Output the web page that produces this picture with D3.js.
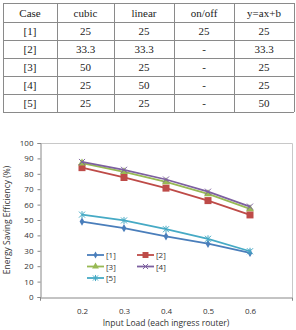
<!DOCTYPE html>
<html>
<head>
<meta charset="utf-8">
<script src="https://cdn.jsdelivr.net/npm/d3@7"></script>
<style>
body { margin: 0; background: #fff; }
svg { display: block; }
.table text { font-family: "Liberation Serif", "Times New Roman", serif; }
.chart text { font-family: "Open Sans", "Noto Sans", sans-serif; }
</style>
</head>
<body>
<svg width="296" height="330"></svg>
<script>
// table data
var columns = ["Case", "cubic", "linear", "on/off", "y=ax+b"];
var cases = ["[1]", "[2]", "[3]", "[4]", "[5]"];
var cubic = ["25", "33.3", "50", "25", "25"];
var linear = ["25", "33.3", "25", "50", "25"];
var onoff = ["25", "-", "-", "-", "-"];
var yaxb = ["25", "33.3", "25", "25", "50"];

// chart data
var loads = [0.2, 0.3, 0.4, 0.5, 0.6];
var s1 = [49, 44.7, 39.4, 34.6, 28.6];
var s2 = [84, 77.6, 70.7, 62.6, 53.3];
var s3 = [86.9, 81.3, 74.8, 66.9, 57.2];
var s4 = [87.7, 82.6, 76.3, 68.4, 58.7];
var s5 = [53.5, 49.7, 44, 37.8, 29.7];
var seriesNames = ["[1]", "[2]", "[3]", "[4]", "[5]"];
var yTicks = [0, 10, 20, 30, 40, 50, 60, 70, 80, 90, 100];

var svg = d3.select("svg");

//################ Table #######################
var colX = [3, 57, 114, 174, 234, 294];
var rowY = [3, 22, 40, 58, 76, 94, 112];
var rows = [columns].concat(cases.map(function(c, i) {
  return [c, cubic[i], linear[i], onoff[i], yaxb[i]];
}));

var tbl = svg.append("g").attr("class", "table");
rowY.forEach(function(y) {
  tbl.append("line").attr("x1", colX[0]).attr("x2", colX[5])
    .attr("y1", y + 0.5).attr("y2", y + 0.5)
    .attr("stroke", "#8a8a8a").attr("stroke-width", 1);
});
colX.forEach(function(x) {
  tbl.append("line").attr("x1", x + 0.5).attr("x2", x + 0.5)
    .attr("y1", rowY[0]).attr("y2", rowY[6])
    .attr("stroke", "#8a8a8a").attr("stroke-width", 1);
});
rows.forEach(function(r, i) {
  r.forEach(function(t, j) {
    tbl.append("text")
      .attr("x", (colX[j] + colX[j + 1]) / 2)
      .attr("y", (rowY[i] + rowY[i + 1]) / 2 + 4)
      .attr("text-anchor", "middle")
      .style("font-size", "11px")
      .attr("fill", "#222")
      .text(t);
  });
});

//################ Chart #######################
var x = d3.scaleLinear().domain([0.1, 0.7]).range([40, 292]);
var y = d3.scaleLinear().domain([0, 100]).range([297, 143]);
var colors = ["#4a7ebb", "#be4b48", "#98b954", "#7d60a0", "#46aac5"];

var g = svg.append("g").attr("class", "chart");

// plot frame (top / right)
g.append("path")
  .attr("d", "M" + x(0.1) + "," + (y(100) + 0.5) + "H" + (x(0.7) + 0.5) + "V" + y(0))
  .attr("fill", "none").attr("stroke", "#c8c8c8");

var yAxis = g.append("g")
  .attr("transform", "translate(" + (x(0.1) + 0.5) + ",0)")
  .call(d3.axisLeft(y).tickValues(yTicks).tickSize(3).tickPadding(4));
var xAxis = g.append("g")
  .attr("transform", "translate(0," + (y(0) + 0.5) + ")")
  .call(d3.axisBottom(x).tickValues([0.1, 0.2, 0.3, 0.4, 0.5, 0.6, 0.7])
    .tickSize(3).tickPadding(8)
    .tickFormat(function(d) { return (d < 0.15 || d > 0.65) ? "" : d3.format(".1f")(d); }));
[yAxis, xAxis].forEach(function(a) {
  a.attr("font-family", null);
  a.select(".domain").attr("stroke", "#888");
  a.selectAll(".tick line").attr("stroke", "#888");
  a.selectAll(".tick text").style("font-size", "8px").attr("fill", "#333");
});
xAxis.selectAll(".tick line").attr("stroke", function(d) { return (d < 0.15 || d > 0.65) ? "#888" : "none"; });

var allSeries = [s1, s2, s3, s4, s5];
var line = d3.line()
  .x(function(d, i) { return x(loads[i]); })
  .y(function(d) { return y(d); });

function drawMarker(sel, k, cx, cy, s) {
  var c = colors[k];
  if (k === 0) {
    sel.append("path").attr("d", d3.symbol(d3.symbolDiamond, 20 * s * s)())
      .attr("transform", "translate(" + cx + "," + cy + ")").attr("fill", c);
  } else if (k === 1) {
    var h = 3.5 * s;
    sel.append("rect").attr("x", cx - h).attr("y", cy - h).attr("width", 2 * h).attr("height", 2 * h).attr("fill", c);
  } else if (k === 2) {
    sel.append("path").attr("d", d3.symbol(d3.symbolTriangle, 28 * s * s)())
      .attr("transform", "translate(" + cx + "," + cy + ")").attr("fill", c);
  } else {
    var r = 3 * s;
    var d = "M" + (cx - r) + "," + (cy - r) + "L" + (cx + r) + "," + (cy + r) +
      "M" + (cx - r) + "," + (cy + r) + "L" + (cx + r) + "," + (cy - r);
    if (k === 4) d += "M" + cx + "," + (cy - r - 0.5) + "L" + cx + "," + (cy + r + 0.5);
    sel.append("path").attr("d", d).attr("stroke", c).attr("stroke-width", 1);
  }
}

var order = [0, 4, 1, 2, 3];
order.forEach(function(k) {
  var sg = g.append("g");
  sg.append("path").datum(allSeries[k])
    .attr("d", line)
    .attr("fill", "none")
    .attr("stroke", colors[k])
    .attr("stroke-width", 1.8);
  allSeries[k].forEach(function(v, i) {
    drawMarker(sg, k, x(loads[i]), y(v), 1);
  });
});

// legend
var legPos = [[87, 255], [137, 255], [87, 266.5], [137, 266.5], [87, 278]];
seriesNames.forEach(function(n, k) {
  var p = legPos[k];
  var lg = g.append("g");
  lg.append("line").attr("x1", p[0]).attr("x2", p[0] + 17)
    .attr("y1", p[1]).attr("y2", p[1])
    .attr("stroke", colors[k]).attr("stroke-width", 1.8);
  drawMarker(lg, k, p[0] + 8.5, p[1], 0.85);
  lg.append("text").attr("x", p[0] + 19).attr("y", p[1] + 3)
    .style("font-size", "8px").attr("fill", "#333")
    .text(n);
});

// axis titles
g.append("text")
  .attr("transform", "translate(10," + y(50) + ") rotate(-90)")
  .attr("text-anchor", "middle")
  .style("font-size", "8.5px").attr("fill", "#333")
  .text("Energy Saving Efficiency (%)");
g.append("text")
  .attr("x", 166).attr("y", 326)
  .attr("text-anchor", "middle")
  .style("font-size", "8.5px").attr("fill", "#333")
  .text("Input Load (each ingress router)");
</script>
</body>
</html>
